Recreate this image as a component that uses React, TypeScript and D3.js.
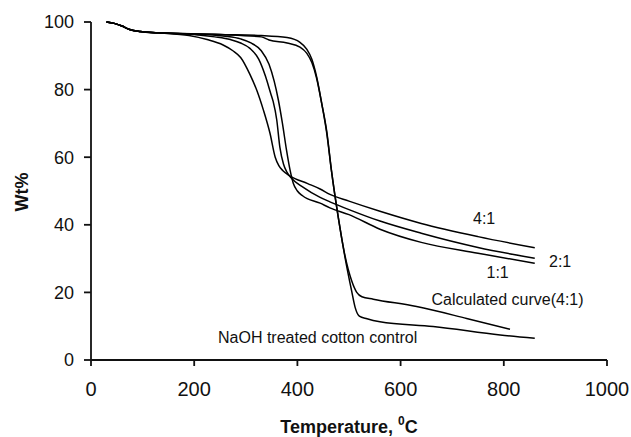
import React from "react";
import * as d3 from "d3";

const xTicks = [0, 200, 400, 600, 800, 1000];
const yTicks = [0, 20, 40, 60, 80, 100];

const ratio41: [number, number][] = [
  [30, 100], [45, 99.6], [60, 98.8], [75, 97.8], [95, 97.2], [130, 96.8], [190, 96], [225, 94.8],
  [256, 93.2], [275, 91.5], [290, 89.5], [308, 84.5], [322, 79.5], [334, 74], [347, 67], [357, 60],
  [364, 57.5], [372, 56], [386, 54.4], [420, 52.2], [444, 50.6], [463, 49], [500, 47], [560, 44],
  [640, 40.4], [750, 36.5], [860, 33.2],
];
const ratio21: [number, number][] = [
  [30, 100], [45, 99.6], [60, 98.8], [75, 97.8], [95, 97.2], [130, 96.8], [200, 96.3], [240, 95.6],
  [270, 94.8], [290, 93.8], [308, 92.2], [325, 89], [338, 84], [348, 79], [353, 76.5], [360, 71],
  [366, 63], [373, 58], [380, 55.5], [389, 53.7], [410, 51.2], [444, 48.1], [463, 46.8], [500, 44.5],
  [560, 41.1], [640, 37.5], [750, 33.3], [860, 30.1],
];
const ratio11: [number, number][] = [
  [30, 100], [45, 99.6], [60, 98.8], [75, 97.8], [95, 97.2], [130, 96.8], [200, 96.4], [260, 95.8],
  [290, 95], [310, 93.8], [330, 91.5], [345, 87.5], [355, 82.5], [363, 77], [371, 70], [379, 62],
  [386, 56], [392, 52.3], [400, 50], [410, 48.6], [444, 46.4], [463, 45], [500, 43], [560, 38.7],
  [640, 34.8], [750, 31.6], [860, 28.6],
];
const control: [number, number][] = [
  [30, 100], [45, 99.6], [60, 98.8], [75, 97.8], [95, 97.2], [130, 96.8], [250, 96.3], [330, 96],
  [380, 95.4], [405, 94], [418, 92], [428, 89], [437, 84], [447, 76], [457, 67], [466, 56],
  [479, 42.4], [492, 30.6], [505, 20.5], [512, 15.5], [520, 13], [535, 12.2], [560, 11.3],
  [663, 9.9], [793, 7.4], [860, 6.4],
];
const calculated: [number, number][] = [
  [30, 100], [45, 99.6], [60, 98.8], [75, 97.8], [95, 97.2], [130, 96.8], [250, 96.3], [330, 95.6],
  [345, 94.7], [380, 93.8], [405, 92.6], [418, 90.8], [428, 88], [437, 83.5], [447, 76],
  [457, 67.5], [466, 56], [479, 42.4], [492, 31], [505, 23.5], [515, 20], [525, 18.7], [547, 18],
  [631, 15.8], [728, 12.3], [812, 9.1],
];

const seriesList = [ratio41, ratio21, ratio11, control, calculated];

const labels = [
  { text: "4:1", x: 473, y: 224 },
  { text: "2:1", x: 549, y: 267 },
  { text: "1:1", x: 486.5, y: 278 },
  { text: "Calculated curve(4:1)", x: 431.5, y: 305 },
  { text: "NaOH treated cotton control", x: 218, y: 342.5 },
];

export default function App() {
  const x = d3.scaleLinear().domain([0, 1000]).range([91, 607]);
  const y = d3.scaleLinear().domain([0, 100]).range([360, 22]);
  const line = d3
    .line<[number, number]>()
    .x((d) => x(d[0]))
    .y((d) => y(d[1]))
    .curve(d3.curveMonotoneX);
  const font = "'Liberation Sans', Arial, Helvetica, sans-serif";
  return (
    <div style={{ position: "absolute", left: 0, top: 0 }}>
      <svg width={631} height={437} style={{ display: "block", background: "#fff" }} fontFamily={font}>
        {seriesList.map((s, i) => (
          <path key={i} d={line(s) || ""} fill="none" stroke="#000" strokeWidth={1.5} />
        ))}
        {/* axes */}
        <line x1={x(0)} x2={x(0)} y1={y(0)} y2={y(100)} stroke="#111" strokeWidth={1.8} />
        <line x1={x(0)} x2={x(1000)} y1={y(0)} y2={y(0)} stroke="#111" strokeWidth={1.8} />
        {yTicks.map((t) => (
          <g key={"y" + t}>
            <line x1={x(0) - 7} x2={x(0)} y1={y(t)} y2={y(t)} stroke="#111" strokeWidth={1.8} />
            <text x={74} y={y(t)} dy="0.36em" textAnchor="end" fontSize={18} fill="#111">
              {t}
            </text>
          </g>
        ))}
        {xTicks.map((t) => (
          <g key={"x" + t}>
            <line x1={x(t)} x2={x(t)} y1={y(0)} y2={y(0) + 6} stroke="#111" strokeWidth={1.8} />
            <text x={x(t)} y={396} textAnchor="middle" fontSize={20} fill="#111">
              {t}
            </text>
          </g>
        ))}
        <text
          transform="translate(28,192) rotate(-90)"
          textAnchor="middle"
          fontSize={18}
          fontWeight="bold"
          fill="#111"
        >
          Wt%
        </text>
        <text x={349} y={433} textAnchor="middle" fontSize={18} fontWeight="bold" fill="#111">
          Temperature, <tspan fontSize={12} dy={-8}>0</tspan>
          <tspan dy={8}>C</tspan>
        </text>
        {labels.map((l) => (
          <text key={l.text} x={l.x} y={l.y} fontSize={16} fill="#111">
            {l.text}
          </text>
        ))}
      </svg>
    </div>
  );
}
